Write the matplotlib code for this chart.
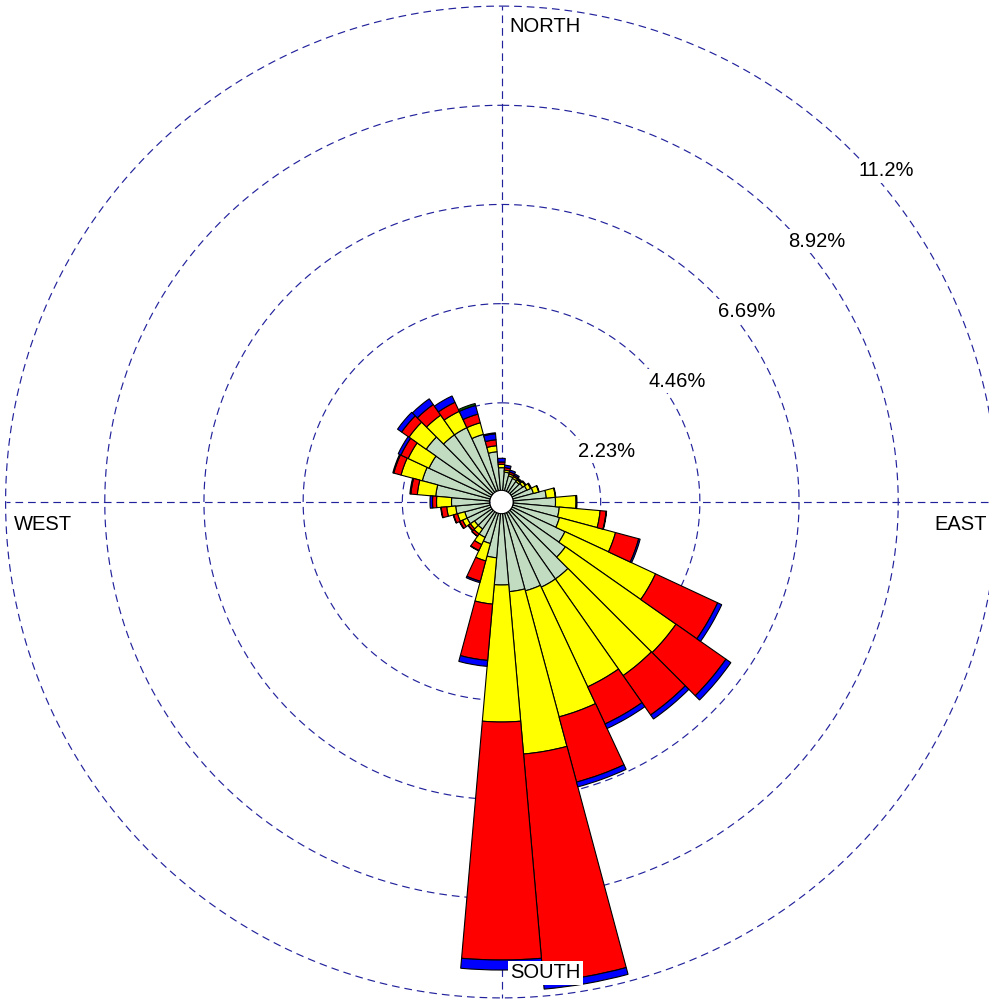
import numpy as np
import matplotlib
matplotlib.use("Agg")
import matplotlib.pyplot as plt

# ---------------- data (percent frequency per direction and speed bin) -------------
directions = list(range(10, 361, 10))  # sector centres, degrees clockwise from north

speed_bin1 = [0.675, 0.607, 0.585, 0.562, 0.585, 0.630, 0.742, 1.012, 1.215, 1.305,
              1.350, 1.575, 1.755, 2.114, 2.114, 2.069, 2.024, 1.867, 1.260, 0.967,
              0.877, 0.742, 0.742, 0.855, 0.855, 1.035, 1.125, 1.485, 1.845, 1.800,
              2.069, 1.845, 1.845, 1.575, 1.136, 0.772]
speed_bin2 = [0.045, 0.045, 0.045, 0.045, 0.067, 0.090, 0.124, 0.202, 0.461, 0.922,
              1.305, 2.249, 3.037, 2.654, 2.474, 2.935, 3.667, 3.082, 1.046, 0.405,
              0.180, 0.135, 0.112, 0.112, 0.169, 0.202, 0.337, 0.416, 0.495, 0.517,
              0.472, 0.540, 0.405, 0.270, 0.135, 0.076]
speed_bin3 = [0.056, 0.045, 0.034, 0.022, 0.022, 0.022, 0.011, 0.011, 0.022, 0.135,
              0.540, 1.541, 1.372, 1.080, 0.922, 1.518, 5.151, 5.354, 1.271, 0.472,
              0.146, 0.061, 0.056, 0.067, 0.090, 0.124, 0.090, 0.146, 0.169, 0.180,
              0.202, 0.292, 0.225, 0.202, 0.135, 0.052]
speed_bin4 = [0.056, 0.045, 0.034, 0.022, 0.000, 0.000, 0.000, 0.000, 0.000, 0.011,
              0.034, 0.101, 0.135, 0.112, 0.112, 0.112, 0.157, 0.225, 0.135, 0.034,
              0.011, 0.007, 0.011, 0.011, 0.011, 0.011, 0.056, 0.022, 0.022, 0.067,
              0.112, 0.157, 0.157, 0.202, 0.135, 0.083]
speed_bin5 = [0.000, 0.000, 0.000, 0.000, 0.000, 0.000, 0.000, 0.000, 0.000, 0.000,
              0.000, 0.000, 0.000, 0.000, 0.000, 0.000, 0.000, 0.000, 0.000, 0.000,
              0.000, 0.000, 0.000, 0.000, 0.000, 0.000, 0.000, 0.000, 0.000, 0.000,
              0.000, 0.000, 0.000, 0.045, 0.022, 0.000]

bin_colours = ["#C1DCC1", "#FFFF00", "#FF0000", "#0000FF", "#006400"]
ring_step = 2.231
ring_count = 5
compass_labels = ["NORTH", "EAST", "SOUTH", "WEST"]

# ---------------- layout --------------------------------------------------------------
W, H = 989, 999
fig = plt.figure(figsize=(W / 100, H / 100), dpi=100)
px_per_pct = 1 / 0.022494
cx, cy = 501.5, H - 502
rmax = 11.6
rpx = rmax * px_per_pct
ax = fig.add_axes([(cx - rpx) / W, (cy - rpx) / H, 2 * rpx / W, 2 * rpx / H],
                  projection="polar")
ax.set_theta_zero_location("N")
ax.set_theta_direction(-1)
ax.set_ylim(0, rmax)
ax.set_axis_off()

FONT = "Liberation Sans"
FS = 14.5
grid_col = "#22229C"
dash = dict(color=grid_col, lw=0.85, dashes=(6.5, 4.2), zorder=0.5)

hole = 11.7 / px_per_pct

# rings
t = np.linspace(0, 2 * np.pi, 721)
rings = [ring_step * k for k in range(1, ring_count + 1)]
for r in rings:
    ax.plot(t, np.full_like(t, r), **dash)
r_out = rings[-1]
# compass cross (radial spokes, leaving the central hole clear)
for a in (0, np.pi / 2, np.pi, 3 * np.pi / 2):
    ax.plot([a, a], [hole, r_out], **dash)

# bars
theta = np.deg2rad(directions)
width = np.deg2rad(10)
bins = [np.array(b) for b in (speed_bin1, speed_bin2, speed_bin3, speed_bin4, speed_bin5)]
cum = np.full(len(directions), hole)
for i, (vals, col) in enumerate(zip(bins, bin_colours)):
    heights = vals - hole if i == 0 else vals
    m = heights > 0
    ax.bar(theta[m], heights[m], width=width, bottom=cum[m], color=col,
           edgecolor="black", linewidth=0.8, zorder=2, align="center")
    cum = cum + heights

box = dict(facecolor="white", edgecolor="none", boxstyle="square,pad=0.12")

# ring labels
for r in rings:
    ax.annotate(f"{r:.3g}%", xy=(np.pi / 4, r), xytext=(4.6, -18.1),
                textcoords="offset points", ha="left", va="baseline", bbox=box,
                fontsize=FS, family=FONT, annotation_clip=False, zorder=5)

# compass labels
ax.annotate(compass_labels[0], xy=(0, r_out), xytext=(5.4, -18.5), textcoords="offset points",
            ha="left", va="baseline", fontsize=FS, family=FONT, bbox=box,
            annotation_clip=False, zorder=6)
ax.annotate(compass_labels[2], xy=(np.pi, r_out), xytext=(6.1, 14.2), textcoords="offset points",
            ha="left", va="baseline", fontsize=FS, family=FONT, bbox=box,
            annotation_clip=False, zorder=6)
ax.annotate(compass_labels[3], xy=(3 * np.pi / 2, r_out), xytext=(6.1, -20.2),
            textcoords="offset points", ha="left", va="baseline", fontsize=FS,
            family=FONT, bbox=box, annotation_clip=False, zorder=6)
ax.annotate(compass_labels[1], xy=(np.pi / 2, r_out), xytext=(-7.6, -20.2),
            textcoords="offset points", ha="right", va="baseline", fontsize=FS,
            family=FONT, bbox=box, annotation_clip=False, zorder=6)

fig.savefig("out.png", dpi=100)
